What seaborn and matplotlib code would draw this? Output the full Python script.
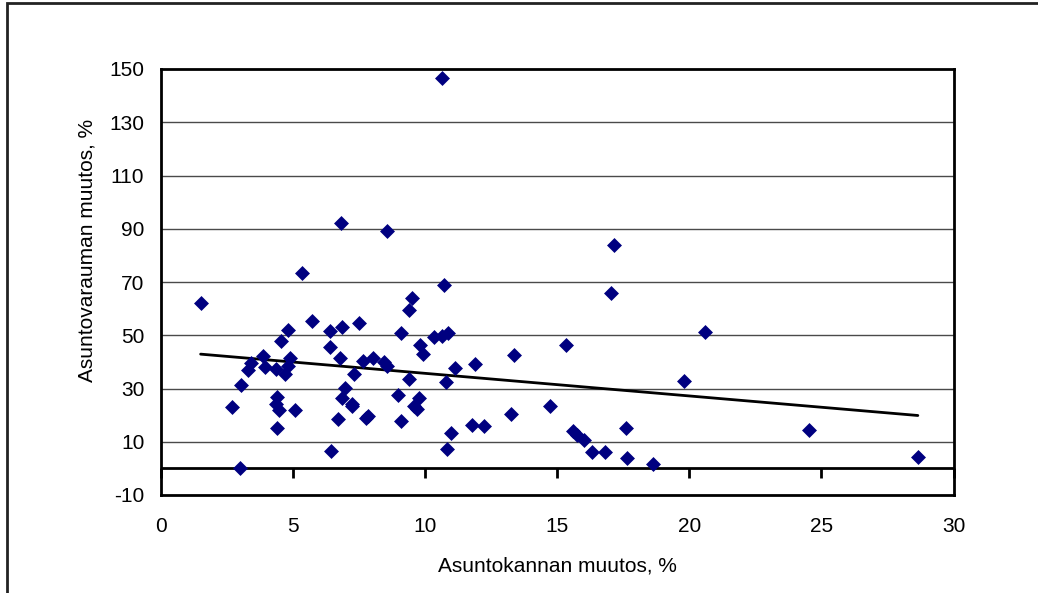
import matplotlib
matplotlib.use("Agg")
import matplotlib.pyplot as plt
import seaborn as sns
import pandas as pd
from matplotlib.patches import Rectangle

# Data
asuntokanta_muutos = [
    1.50, 2.70, 2.98, 3.03, 3.28, 3.42, 3.85, 3.95, 4.35, 4.40,
    4.35, 4.45, 4.40, 4.56, 4.70, 4.82, 4.90, 4.82, 5.06, 5.35,
    5.70, 6.39, 6.41, 6.42, 6.71, 6.77, 6.83, 6.84, 6.84, 6.97,
    7.22, 7.23, 7.30, 7.51, 7.66, 7.77, 7.83, 8.02, 8.43, 8.56,
    8.57, 8.96, 9.08, 9.07, 9.37, 9.37, 9.50, 9.57, 9.68, 9.75,
    9.80, 9.90, 10.35, 10.62, 10.72, 10.62, 10.87, 10.77, 10.84, 10.97,
    11.12, 11.79, 11.87, 12.24, 13.25, 13.38, 14.71, 15.32, 15.59, 15.76,
    16.03, 16.30, 16.79, 17.05, 17.16, 17.60, 17.63, 18.63, 19.81, 20.61,
    24.54, 28.65,
]
asuntovaranto_muutos = [
    62.3, 23.0, 0.0, 31.3, 37.0, 39.6, 42.2, 38.0, 37.2, 26.7,
    24.0, 22.1, 15.2, 47.7, 35.4, 51.9, 41.6, 38.5, 22.1, 73.4,
    55.4, 51.5, 45.6, 6.5, 18.6, 41.5, 92.2, 53.0, 26.4, 30.1,
    23.3, 24.1, 35.4, 54.7, 40.3, 18.9, 19.6, 41.6, 40.1, 89.0,
    38.4, 27.4, 50.7, 17.8, 33.5, 59.6, 64.1, 23.5, 22.2, 26.6,
    46.5, 42.8, 49.2, 146.6, 68.9, 49.8, 50.9, 32.3, 7.2, 13.3,
    37.6, 16.3, 39.3, 16.1, 20.4, 42.7, 23.6, 46.4, 14.2, 12.6,
    10.6, 6.0, 6.0, 65.8, 83.9, 15.1, 4.0, 1.6, 33.0, 51.1,
    14.5, 4.3,
]
x_ticks = [0, 5, 10, 15, 20, 25, 30]
y_ticks = [-10, 10, 30, 50, 70, 90, 110, 130, 150]
x_label = "Asuntokannan muutos, %"
y_label = "Asuntovarauman muutos, %"

df = pd.DataFrame({"x": asuntokanta_muutos, "y": asuntovaranto_muutos})

sns.set_theme(style="white")
plt.rcParams["font.family"] = ["Liberation Sans", "DejaVu Sans"]

FS = 15
W, H = 1038, 593
fig = plt.figure(figsize=(W / 100, H / 100), dpi=100)
fig.patch.set_facecolor("white")
ax = fig.add_axes([161 / W, 1 - 495 / H, (953.5 - 161) / W, (495 - 69) / H])
ax.set_facecolor("white")

# horizontal gridlines
for yt in y_ticks[1:-1]:
    ax.axhline(yt, color="#4a4a4a", lw=1.0, zorder=0)
# zero line (category axis crossing)
ax.axhline(0, color="black", lw=2.0, zorder=1)

sns.scatterplot(data=df, x="x", y="y", marker="D", color="#000080",
                s=58, linewidth=0, ax=ax, zorder=3, legend=False)
sns.regplot(data=df, x="x", y="y", scatter=False, ci=None, truncate=True,
            line_kws={"color": "black", "lw": 2.0, "zorder": 2}, ax=ax)

ax.set_xlim(0, 30)
ax.set_ylim(-10, 150)
ax.set_xticks(x_ticks)
ax.set_yticks(y_ticks)
ax.set_xticklabels([str(v) for v in x_ticks])
ax.set_yticklabels([str(v) for v in y_ticks])
ax.tick_params(axis="x", length=0, pad=16, labelsize=FS, colors="black")
ax.tick_params(axis="y", direction="in", length=6, width=1, pad=12,
               labelsize=FS, colors="black")

for sp in ax.spines.values():
    sp.set_visible(True)
    sp.set_color("black")
    sp.set_linewidth(2.0)

# tick marks along the zero line
sec = ax.secondary_xaxis(10 / 160)
sec.set_xticks(x_ticks)
sec.tick_params(axis="x", direction="out", length=7, width=2,
                labelbottom=False, colors="black")
sec.spines["bottom"].set_visible(False)

ax.set_xlabel(x_label, fontsize=FS, color="black")
ax.set_ylabel(y_label, fontsize=FS, color="black")
ax.xaxis.set_label_coords(0.5, -0.145)
ax.yaxis.set_label_coords(-0.0815, 0.575)

# outer chart-area frame
fig.patches.append(Rectangle((7 / W, -0.05), 1.1, 1 - 3 / H + 0.05,
                             transform=fig.transFigure, fill=False,
                             edgecolor="#222222", lw=2.0))

fig.savefig("out.png", dpi=100, facecolor="white")
